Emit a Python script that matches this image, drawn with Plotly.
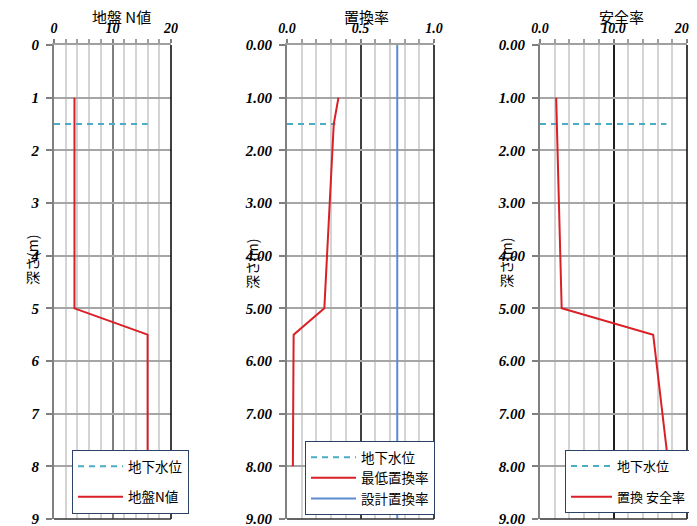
import plotly.graph_objects as go

# ---- data ----
depth_n = [1, 5, 5.5, 8]
n_value = [3.5, 3.5, 16, 16]

depth_rep = [1, 1.5, 5, 5.5, 8]
min_rep = [0.35, 0.318, 0.254, 0.045, 0.04]

design_depth = [0, 9]
design_rep = [0.75, 0.75]

depth_sf = [1, 5, 5.5, 8]
safety = [2.2, 2.95, 15.4, 17.5]

water_depth = 1.5
water_x1 = [0, 16]
water_x2 = [0, 0.33]
water_x3 = [0, 17.2]

RED = "#DA1F26"
BLUE = "#5B8BD0"
CYAN = "#4BACC6"
CJK = "Noto Sans CJK JP"
SERIF = "Liberation Serif"

W, H = 697, 526
OFF = 8  # page body offset


def px(x):
    return (x - OFF) / W


def py(y):
    return (H - (y - OFF)) / H


fig = go.Figure()


def water(xs, xa, ya, leg, grp):
    fig.add_trace(go.Scatter(x=xs, y=[water_depth, water_depth], mode="lines",
                             line=dict(color=CYAN, width=2, dash="6px,5px"),
                             name="地下水位", xaxis=xa, yaxis=ya, legend=leg,
                             legendgroup=grp))


# panel 1
water(water_x1, "x", "y", "legend", "a1")
fig.add_trace(go.Scatter(x=n_value, y=depth_n, mode="lines",
                         line=dict(color=RED, width=2), name="地盤N値",
                         xaxis="x", yaxis="y", legend="legend", legendgroup="b1"))
# panel 2
water(water_x2, "x2", "y2", "legend2", "a2")
fig.add_trace(go.Scatter(x=min_rep, y=depth_rep, mode="lines",
                         line=dict(color=RED, width=2), name="最低置換率",
                         xaxis="x2", yaxis="y2", legend="legend2", legendgroup="a2"))
fig.add_trace(go.Scatter(x=design_rep, y=design_depth, mode="lines",
                         line=dict(color=BLUE, width=2), name="設計置換率",
                         xaxis="x2", yaxis="y2", legend="legend2", legendgroup="a2"))
# panel 3
water(water_x3, "x3", "y3", "legend3", "a3")
fig.add_trace(go.Scatter(x=safety, y=depth_sf, mode="lines",
                         line=dict(color=RED, width=2), name="置換 安全率",
                         xaxis="x3", yaxis="y3", legend="legend3", legendgroup="b3"))

ydom = [py(519), py(45)]
xdoms = [[px(54), px(171)], [px(287), px(434)], [px(540), px(687)]]
xranges = [[0, 20], [0, 1], [0, 20]]
dticks = [10, 0.5, 10]
minor = [2, 0.1, 2]
xfmt = ["d", ".1f", ".1f"]
yfmt = ["d", ".2f", ".2f"]
majorcol = ["#7F7F7F", "#404040", "#202020"]

tickfont_x = dict(family=SERIF, size=14, color="black", weight="bold", style="italic")
tickfont_y = dict(family=SERIF, size=15, color="black", weight="bold", style="italic")

layout = dict(
    width=W, height=H,
    margin=dict(l=0, r=0, t=0, b=0, autoexpand=False),
    paper_bgcolor="white", plot_bgcolor="white",
    showlegend=True,
)
for i in range(3):
    sx = "" if i == 0 else str(i + 1)
    layout["xaxis" + sx] = dict(
        domain=xdoms[i], range=xranges[i], anchor="y" + sx, side="top",
        dtick=dticks[i], tick0=0, tickformat=xfmt[i], tickfont=tickfont_x,
        showgrid=True, gridcolor=majorcol[i], gridwidth=1.5,
        ticks="outside", ticklen=4, tickcolor="#808080", tickwidth=1.5,
        showline=True, linecolor="#A0A0A0", linewidth=2,
        minor=dict(dtick=minor[i], tick0=0, showgrid=True, gridcolor="#D4D4D4",
                   gridwidth=2, ticks="outside", ticklen=4, tickcolor="#A0A0A0", tickwidth=1.5),
        zeroline=False, fixedrange=True, automargin=False,
    )
    layout["yaxis" + sx] = dict(
        domain=ydom, range=[9, 0], anchor="x" + sx,
        dtick=1, tick0=0, tickformat=yfmt[i], tickfont=tickfont_y,
        showgrid=True, gridcolor="#A6A6A6", gridwidth=2,
        ticks="outside", ticklen=6, tickcolor="#808080", tickwidth=1.5,
        ticklabelstandoff=4,
        showline=True, linecolor="#808080", linewidth=2,
        zeroline=False, fixedrange=True, automargin=False,
    )

legfont = dict(family=CJK, size=13.5, color="black")
layout["legend"] = dict(x=px(72), y=py(450), xanchor="left", yanchor="top",
                        bgcolor="white", bordercolor="#2C4368", borderwidth=1,
                        font=legfont, tracegroupgap=10, itemwidth=45)
layout["legend2"] = dict(x=px(305), y=py(441), xanchor="left", yanchor="top",
                         bgcolor="white", bordercolor="#2C4368", borderwidth=1,
                         font=legfont, itemwidth=45)
layout["legend3"] = dict(x=px(565), y=py(450), xanchor="left", yanchor="top",
                         bgcolor="white", bordercolor="#2C4368", borderwidth=1,
                         font=dict(family=CJK, size=13, color="black"),
                         tracegroupgap=11, itemwidth=41)

fig.update_layout(**layout)

# borders (right and bottom)
shapes = []
for i in range(3):
    sx = "" if i == 0 else str(i + 1)
    shapes.append(dict(type="line", xref="x" + sx + " domain", yref="y" + sx + " domain",
                       x0=1, x1=1, y0=0, y1=1, line=dict(color="black", width=1.5)))
    shapes.append(dict(type="line", xref="x" + sx + " domain", yref="y" + sx + " domain",
                       x0=0, x1=1, y0=0, y1=0, line=dict(color="#303030", width=1.5)))
fig.update_layout(shapes=shapes)

titles = ["地盤 N値", "置換率", "安全率"]
title_x = [122, 367, 621]
ann = []
for t, xp in zip(titles, title_x):
    ann.append(dict(text=t, x=px(xp), y=py(17), xref="paper", yref="paper",
                    showarrow=False, font=dict(family=CJK, size=15, color="black"),
                    xanchor="center", yanchor="middle", borderpad=0))
for xp, yp in [(32, 260), (252, 264), (506, 263)]:
    ann.append(dict(text="深さ(m)", x=px(xp), y=py(yp), xref="paper", yref="paper",
                    showarrow=False, textangle=-90,
                    font=dict(family=CJK, size=14, color="black"),
                    xanchor="center", yanchor="middle"))
fig.update_layout(annotations=ann)

fig.write_html("out.html")
